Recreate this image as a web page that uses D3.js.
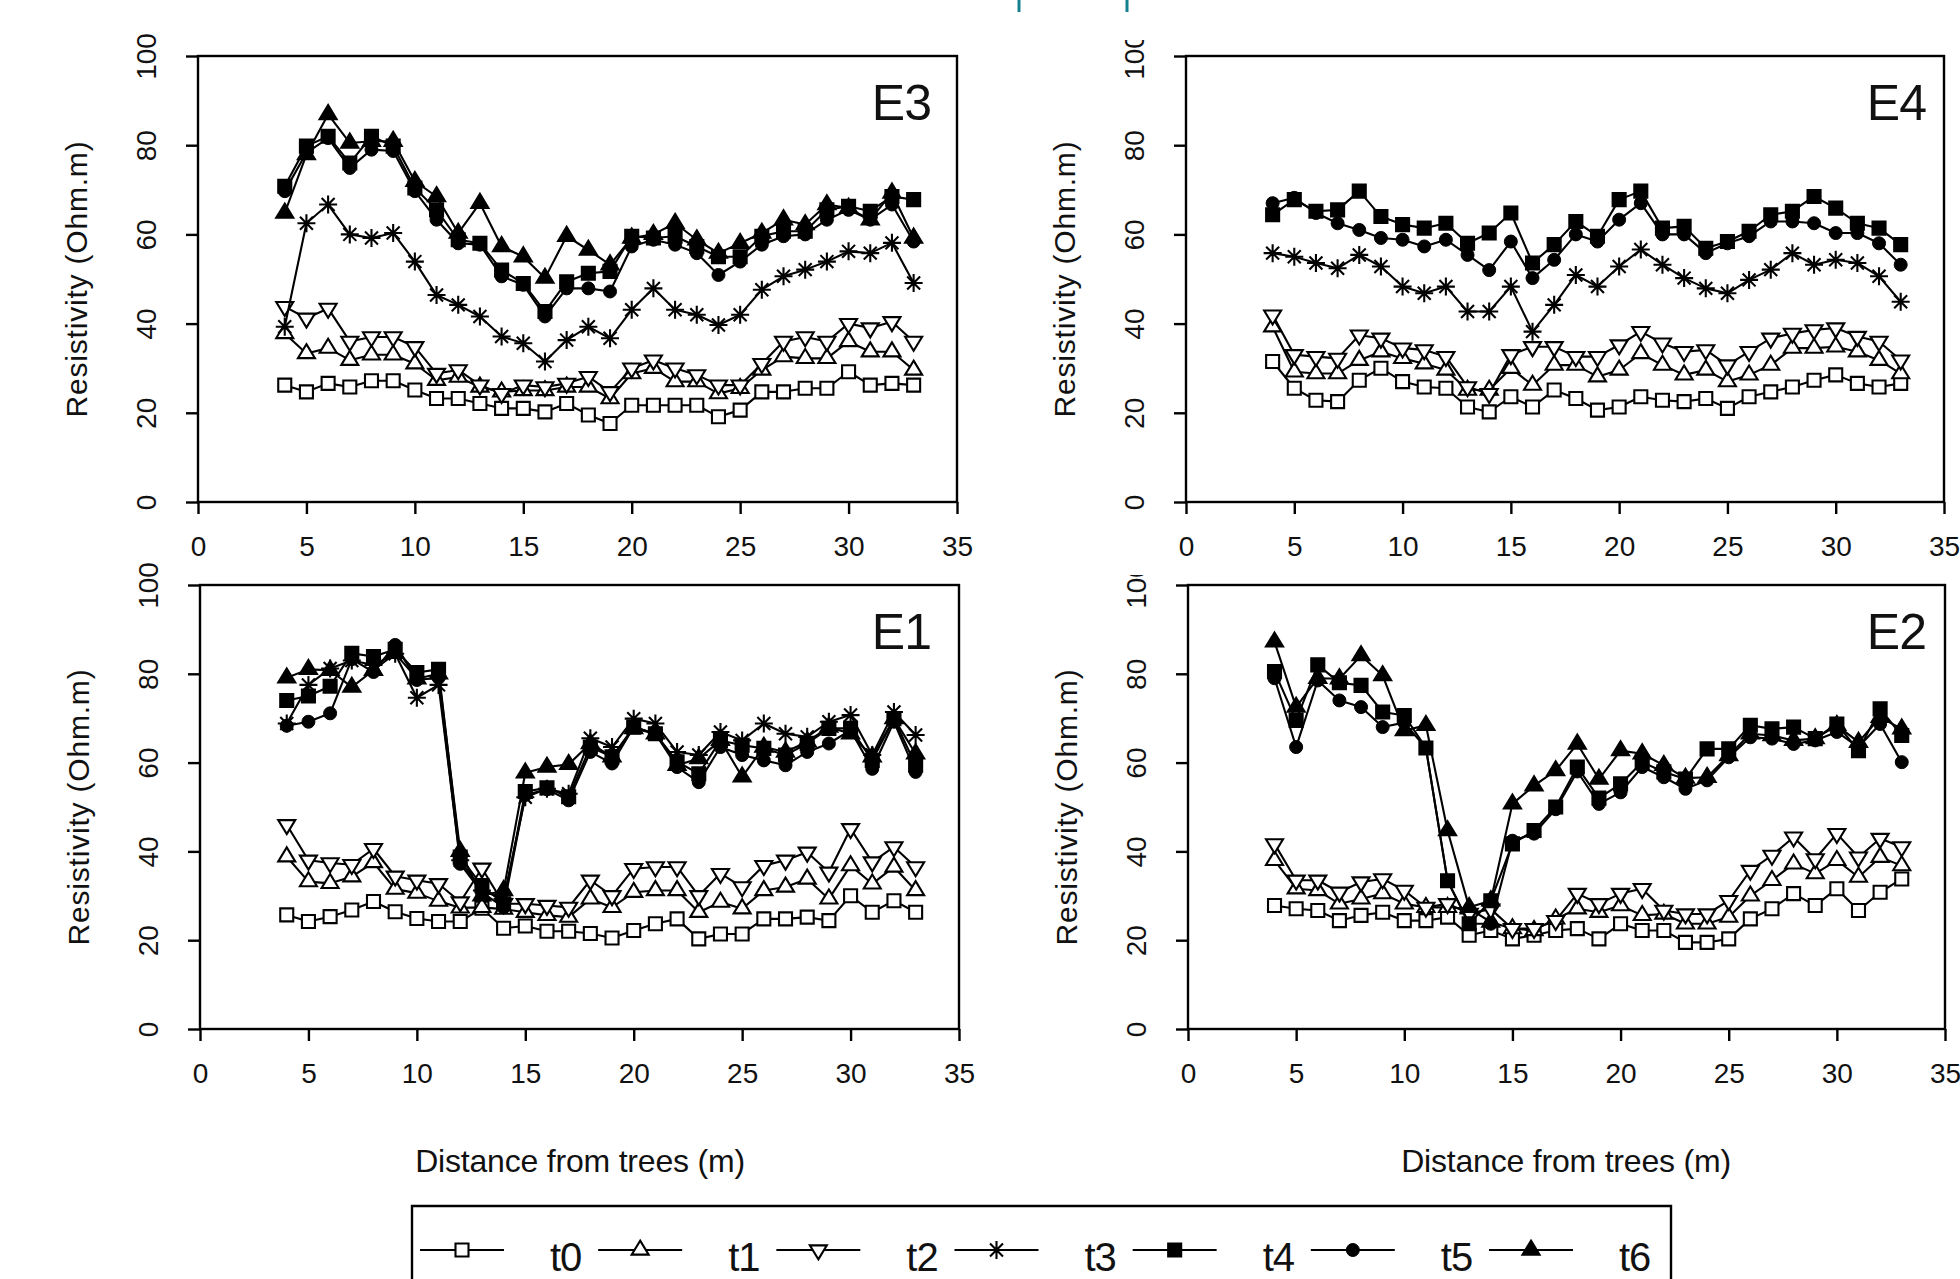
<!DOCTYPE html>
<html>
<head>
<meta charset="utf-8">
<script src="https://cdn.jsdelivr.net/npm/d3@7"></script>
<style>
  html, body { margin: 0; padding: 0; background: #fff; }
  svg { display: block; }
  text { font-family: 'Liberation Sans', Arial, sans-serif; fill: #111; }
</style>
</head>
<body>
<svg id="chart" width="1960" height="1279"></svg>
<script>
// distance from trees (m), same for every panel
const distance = [4, 5, 6, 7, 8, 9, 10, 11, 12, 13, 14, 15, 16, 17, 18, 19, 20,
                  21, 22, 23, 24, 25, 26, 27, 28, 29, 30, 31, 32, 33];

const seriesNames = ['t0', 't1', 't2', 't3', 't4', 't5', 't6'];
const xTicks = [0, 5, 10, 15, 20, 25, 30, 35];
const yTicks = [0, 20, 40, 60, 80, 100];

// resistivity (Ohm.m), one row per time step
const e3 = [
  [26.2,24.7,26.6,25.8,27.2,27.2,25.1,23.2,23.2,22.1,21,21,20.2,22.1,19.5,17.6,21.7,21.7,21.7,21.7,19.1,20.6,24.7,24.7,25.5,25.5,29.2,26.2,26.6,26.2],
  [37.8,33.3,34.5,31.8,33,33,31,27.3,28,25.8,24.7,25,25,25.8,25.8,23.2,28.8,30,27,27,24.3,25.5,29.6,32.6,32.2,32.2,36,33.7,33.7,29.6],
  [43.8,41.2,43.4,36,37,37,34.8,28.8,29.6,26.2,24.3,26.2,25.8,26.6,28.1,24.7,30,31.8,30,28.5,26.2,26.2,31,36,37,36,40,39,40.4,36],
  [39.3,62.5,66.7,60,59.2,60.3,53.9,46.4,44.2,41.6,37.1,35.6,31.5,36.3,39.3,36.7,43.1,47.9,43.1,42,39.7,42,47.6,50.6,52.1,53.9,56.2,55.8,58.1,49.1],
  [70.8,79.8,82,76,82,79.8,70.4,65.5,58.8,58,52,49,42.7,49.4,51.3,51.7,59.6,59.2,59.6,57.3,55,55,59.6,60.7,60.7,65.5,66.3,65.2,68.5,67.8],
  [69.7,78.3,81.6,74.9,79,78.7,69.7,63.3,58,57.7,50.6,48.7,41.6,47.9,47.9,47.2,57.3,58.8,57.7,55.8,50.9,53.9,57.7,59.6,60,63.3,65.5,63.3,66.7,58.4],
  [64.8,77.9,86.9,80.5,80.9,80.9,71.9,68.5,60.3,67,57.3,55,50.2,59.6,56.5,53.2,59.2,60,62.5,58.8,55.8,58,60.3,63.3,62.2,66.7,65.9,63.3,69.3,59.2]
];

// E4 has no t6 profile
const e4 = [
  [31.5,25.5,22.8,22.5,27.3,30,27,25.8,25.5,21.3,20.2,23.6,21.3,25.1,23.2,20.6,21.3,23.6,22.8,22.5,23.2,21,23.6,24.7,25.8,27.3,28.5,26.6,25.8,26.6],
  [39.3,29.2,28.8,28.8,31.8,33.7,32.2,31,29.6,25.1,25.1,30,26.2,30.7,30.7,28.1,29.6,33.3,30.7,28.5,29.6,27,28.5,30.7,34.5,34.5,34.8,33.7,31.8,28.8],
  [41.9,33,32.6,32.2,37.4,36.7,34.5,34.1,32.6,25.8,24.3,33,34.8,34.8,32.6,32.6,35.2,38.2,35.6,33.7,34.1,30.7,33.7,36.7,37.8,38.6,39,37.1,36,31.8],
  [55.8,55,53.6,52.4,55.4,52.8,48.3,46.8,48.3,42.7,42.7,48.3,38.2,44.2,50.9,48.3,52.8,56.6,53.2,50.2,47.9,46.8,49.8,52.1,55.8,53.2,54.3,53.6,50.6,44.9],
  [64.4,67.8,65.2,65.5,69.7,64,62.2,61.4,62.5,58,60.3,64.8,53.6,57.7,62.9,59.6,67.8,69.7,61.4,61.8,56.9,58.4,60.7,64.4,65.2,68.5,65.9,62.5,61.4,57.7],
  [67,68.2,64.8,62.5,61,59.2,58.8,57.3,58.8,55.4,52,58.4,50.2,54.3,60,58.4,63.3,67,60,60,55.8,58,59.6,62.9,62.9,62.5,60.3,60.3,58,53.2]
];

const e1 = [
  [25.7,24.2,25.3,26.8,28.7,26.4,24.9,24.2,24.2,27.2,22.7,23.2,22,22,21.5,20.5,22.2,23.7,24.8,20.3,21.4,21.4,24.8,24.8,25.2,24.4,30,26.3,28.9,26.3],
  [38.8,33.2,32.8,34.3,37.5,31.5,30.6,28.8,27.3,27.4,27,26.3,25.6,25.2,29.3,27.4,30.8,31.2,31.2,26.3,28.6,27.1,31.2,32,33.8,29.3,36.8,32.7,36.5,31.2],
  [46,38,37.4,37,40.6,34.4,33.5,32.7,28.6,36.2,28.2,28.2,27.8,27.4,33.5,30,36.1,36.5,36.5,30,35,32,36.8,38,39.8,35.3,45.1,37.6,41,36.5],
  [68.8,77.5,81.2,83,82,84.5,74.6,77.5,38,31.2,29.3,52.2,54.1,53,65.5,63.5,69.9,68.8,62.4,61.7,66.9,65,68.8,66.5,65.8,69.2,70.7,61.7,71.4,66.2],
  [74,75,77.2,84.6,83.9,85.5,80.3,81,38.7,32.3,28.2,53.5,54.3,52.3,63.5,61.3,68,66.5,60.2,57.5,65,63.9,63.2,61.7,64.3,67.7,67.7,60.5,69.9,59.4],
  [68.3,69.2,71.1,83.3,80.4,86.5,78.6,79.1,37.2,30.8,27.4,52.7,54,51.5,62.4,59.8,68,66.5,59,55.6,63.5,61.7,60.5,59.4,62.4,64.3,67.3,58.6,69.2,57.9],
  [79.1,81,80.8,77,80.8,84.6,78.9,80,40,30,31.2,57.7,59,59.6,64.3,61.3,67.7,66.5,59.4,60.9,65,56.8,63.5,62.4,64.7,68,66.5,61.3,69.9,62]
];

// E2 has no t3 profile
const e2 = [
  [27.8,27.1,26.7,24.4,25.6,26.3,24.4,24.4,25.2,21.1,22.2,20.3,21.1,22.2,22.6,20.3,23.7,22.2,22.2,19.5,19.5,20.3,24.8,27.1,30.5,27.8,31.6,26.7,30.8,33.8],
  [38,31.6,31.2,28.2,29.3,30.5,28.2,27.4,27.4,27.1,24.1,22.6,22.2,24.8,27.1,26.3,27.8,25.6,25.9,23.7,23.7,25.2,30,33.5,37.2,35,38,34.2,38.7,36.8],
  [41.7,33.5,33.5,30.8,33.1,33.8,31.2,27.4,28.2,26,27,22.6,22.6,24.4,30.5,28.2,30.5,31.6,26.7,25.9,25.9,28.9,35.7,39.1,43.2,38.3,44,38.7,42.9,41],
  [80.5,69.5,82,78,77.4,71.4,70.6,63.3,33.4,23.7,28.9,41.7,44.7,50,59,52,55.2,60.1,57.9,56.3,63.1,63.1,68.4,67.6,68,65.4,68.7,62.7,72.1,66.1],
  [79,63.5,78.5,74,72.5,68,69,63.3,33.4,23.7,23.7,42.4,44,49.5,58,50.7,53.3,59,56.7,54.1,56,61.2,65.7,65.4,64.2,65,66.9,63.5,68.7,60.1],
  [87.2,72.5,79,78.9,84.1,79.6,67.2,68.4,44.7,27.4,28.9,50.7,54.8,58.2,64.2,56.3,62.7,62,59.4,56.5,56.7,61.6,66.5,66.1,65,65.4,68.4,64.6,70.2,67.6]
];
const e2Names = ['t0', 't1', 't2', 't4', 't5', 't6'];

const panels = [
  { label: 'E3', rows: e3, names: seriesNames, x0: 198, x1: 957, y0: 56, y1: 502, labelX: 931, cut: null },
  { label: 'E4', rows: e4, names: seriesNames.slice(0, 6), x0: 1186, x1: 1944, y0: 56, y1: 502, labelX: 1926, cut: 40 },
  { label: 'E1', rows: e1, names: seriesNames, x0: 200, x1: 959, y0: 585, y1: 1029, labelX: 931, cut: null },
  { label: 'E2', rows: e2, names: e2Names, x0: 1188, x1: 1945, y0: 585, y1: 1029, labelX: 1926, cut: 575 }
];

const svg = d3.select('#chart');
const defs = svg.append('defs');

// marker shapes, centred on the data point
function markerPath(name) {
  const s = 13, w = 17, h = 14, r = 9;
  if (name === 't0' || name === 't4') return `M${-s/2},${-s/2}h${s}v${s}h${-s}Z`;
  if (name === 't1' || name === 't6') return `M0,${-h*2/3}L${w/2},${h/3}L${-w/2},${h/3}Z`;
  if (name === 't2') return `M0,${h*2/3}L${w/2},${-h/3}L${-w/2},${-h/3}Z`;
  if (name === 't3') {
    const d = r * 0.72;
    return `M0,${-r}V${r}M${-r},0H${r}M${-d},${-d}L${d},${d}M${d},${-d}L${-d},${d}`;
  }
  return '';
}
const filled = { t4: true, t5: true, t6: true };

function drawMarker(g, name, x, y) {
  if (name === 't5') {
    g.append('circle').attr('cx', x).attr('cy', y).attr('r', 6.5)
      .attr('fill', '#000').attr('stroke', '#000').attr('stroke-width', 1);
    return;
  }
  g.append('path')
    .attr('d', markerPath(name))
    .attr('transform', `translate(${x},${y})`)
    .attr('fill', name === 't3' ? 'none' : (filled[name] ? '#000' : '#fff'))
    .attr('stroke', '#000')
    .attr('stroke-width', 2.1);
}

panels.forEach((p, pi) => {
  const x = d3.scaleLinear().domain([0, 35]).range([p.x0, p.x1]);
  const y = d3.scaleLinear().domain([0, 100]).range([p.y1, p.y0]);
  const g = svg.append('g');

  // x axis
  const xa = g.append('g').attr('transform', `translate(0,${p.y1})`)
    .call(d3.axisBottom(x).tickValues(xTicks).tickSize(12).tickSizeOuter(0).tickPadding(22));
  xa.select('.domain').remove();
  xa.selectAll('line').attr('stroke', '#000').attr('stroke-width', 2.4);
  xa.selectAll('text').attr('font-size', 28).attr('fill', '#111')
    .attr('font-family', "'Liberation Sans', Arial, sans-serif");

  // y axis, labels turned to read upwards
  const ya = g.append('g').attr('transform', `translate(${p.x0},0)`)
    .call(d3.axisLeft(y).tickValues(yTicks).tickSize(12).tickSizeOuter(0));
  ya.select('.domain').remove();
  ya.selectAll('line').attr('stroke', '#000').attr('stroke-width', 2.4);
  ya.selectAll('text')
    .attr('font-size', 28).attr('fill', '#111')
    .attr('font-family', "'Liberation Sans', Arial, sans-serif")
    .attr('x', null).attr('dy', null)
    .attr('text-anchor', 'middle')
    .attr('dominant-baseline', 'central')
    .attr('transform', 'translate(-52,0) rotate(-90)');
  if (p.cut !== null) {
    // the "100" of the right-hand panels is cut off in the original
    const id = 'cut' + pi;
    defs.append('clipPath').attr('id', id)
      .append('rect').attr('x', -120).attr('y', p.cut).attr('width', 120).attr('height', 600);
    ya.attr('clip-path', `url(#${id})`);
  }

  // y title
  g.append('text')
    .attr('transform', `translate(${p.x0 - 122},${(p.y0 + p.y1) / 2}) rotate(-90)`)
    .attr('text-anchor', 'middle')
    .attr('dominant-baseline', 'central')
    .attr('font-size', 30)
    .attr('letter-spacing', 0.8)
    .text('Resistivity (Ohm.m)');

  // series: line then markers, one time step at a time
  const line = d3.line().x((d, i) => x(distance[i])).y(d => y(d));
  p.rows.forEach((vals, si) => {
    const name = p.names[si];
    const sg = g.append('g');
    sg.append('path').attr('d', line(vals))
      .attr('fill', 'none').attr('stroke', '#000').attr('stroke-width', 2.1)
      .attr('stroke-linejoin', 'round');
    vals.forEach((v, i) => drawMarker(sg, name, x(distance[i]), y(v)));
  });

  // frame
  g.append('rect')
    .attr('x', p.x0).attr('y', p.y0)
    .attr('width', p.x1 - p.x0).attr('height', p.y1 - p.y0)
    .attr('fill', 'none').attr('stroke', '#000').attr('stroke-width', 2.4);

  g.append('text')
    .attr('x', p.labelX).attr('y', p.y0 + 64)
    .attr('text-anchor', 'end')
    .attr('font-size', 50)
    .attr('letter-spacing', -1)
    .text(p.label);
});

// x titles under the bottom row
[580, 1566].forEach(cx => {
  svg.append('text').attr('x', cx).attr('y', 1172)
    .attr('text-anchor', 'middle').attr('font-size', 32).attr('letter-spacing', -0.2)
    .text('Distance from trees (m)');
});

// legend (its lower edge falls outside the picture)
svg.append('path')
  .attr('d', 'M412,1300V1206H1671V1300')
  .attr('fill', 'none').attr('stroke', '#000').attr('stroke-width', 2.4);
const lx = d3.scalePoint().domain(seriesNames).range([462, 1531]);
seriesNames.forEach(name => {
  const cx = lx(name), cy = 1250;
  const lg = svg.append('g');
  lg.append('line').attr('x1', cx - 42).attr('x2', cx + 42).attr('y1', cy).attr('y2', cy)
    .attr('stroke', '#000').attr('stroke-width', 2.2);
  drawMarker(lg, name, cx, cy);
  lg.append('text').attr('x', cx + 88).attr('y', cy + 21)
    .attr('font-size', 40).attr('letter-spacing', -1).text(name);
});

// small teal marks at the top edge
[1019, 1127].forEach(px => {
  svg.append('line').attr('x1', px).attr('x2', px).attr('y1', 0).attr('y2', 12)
    .attr('stroke', '#15808e').attr('stroke-width', 3);
});
</script>
</body>
</html>
